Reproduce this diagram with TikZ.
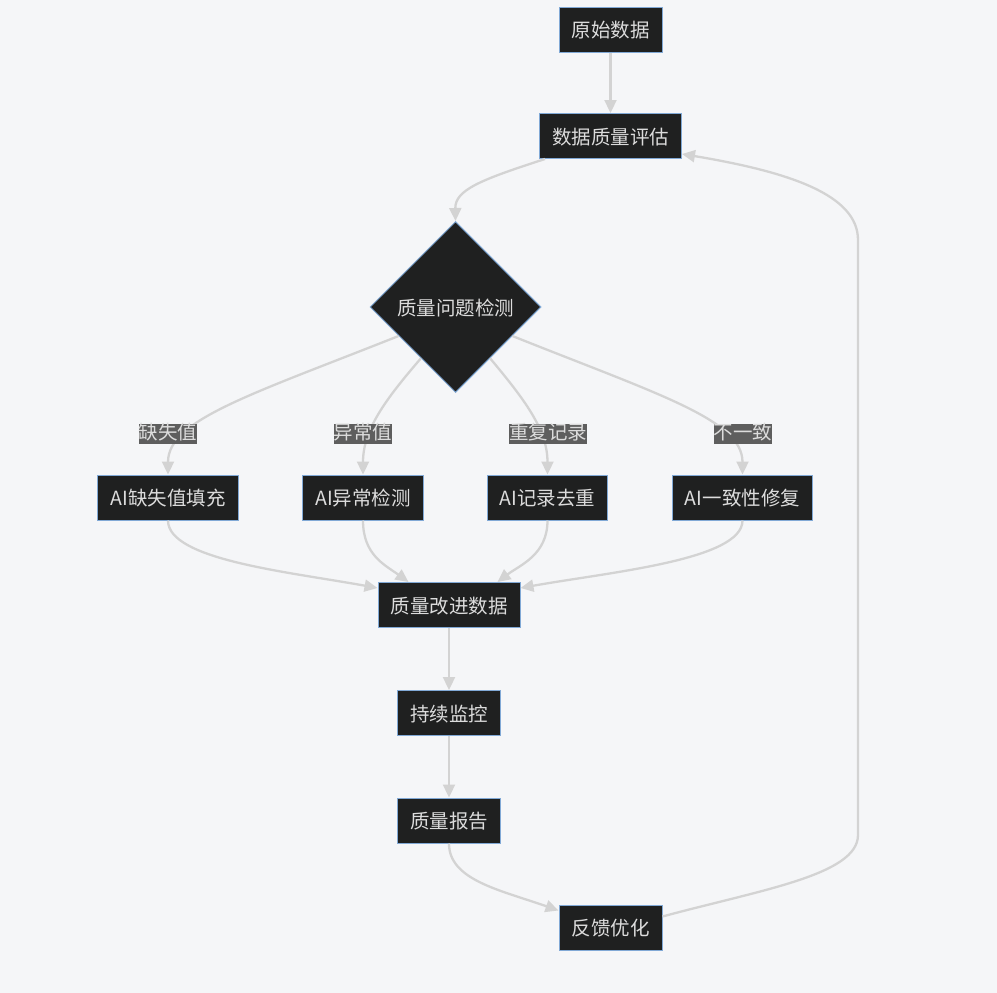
\documentclass[tikz,border=0pt]{standalone}
\usepackage{fontspec}
\setmainfont{Noto Sans CJK SC}
\usetikzlibrary{shapes.geometric,arrows.meta,calc}
\definecolor{bgc}{HTML}{F5F6F8}
\definecolor{nodefill}{HTML}{1F2020}
\definecolor{nodeline}{HTML}{81A9D6}
\definecolor{txt}{HTML}{DCDCDC}
\definecolor{edgec}{HTML}{D3D3D3}
\definecolor{lblbg}{HTML}{5E5E5E}
\begin{document}
\begin{tikzpicture}[x=1pt,y=-1pt,
  every node/.style={font=\fontsize{19.5}{22}\selectfont, text=txt},
  box/.style={draw=nodeline, line width=1pt, fill=nodefill, minimum height=45pt,
    inner xsep=12.5pt, inner ysep=0pt, text height=18pt, text depth=2pt},
  dia/.style={shape=diamond, draw=nodeline, line width=1pt, fill=nodefill, aspect=1,
    minimum width=171pt, minimum height=171pt, inner sep=0pt, text height=18pt, text depth=2pt},
  lbl/.style={fill=lblbg, inner sep=0pt, text height=16pt, text depth=4pt},
  conn/.style={draw=edgec, line width=2.3pt, -{Triangle[length=13pt,width=12pt]}}
]
\fill[bgc] (0,0) rectangle (997,993);
\useasboundingbox (0,0) rectangle (997,993);

\node[box] (n1) at (610.5,29.5) {原始数据};
\node[box] (n2) at (610.5,136) {数据质量评估};
\node[dia] (d) at (455.5,307) {质量问题检测};
\node[box] (a1) at (168,497.5) {AI缺失值填充};
\node[box] (a2) at (363,497.5) {AI异常检测};
\node[box] (a3) at (547.5,497.5) {AI记录去重};
\node[box] (a4) at (742.5,497.5) {AI一致性修复};
\node[box] (q) at (449,605) {质量改进数据};
\node[box] (m) at (449,713) {持续监控};
\node[box] (r) at (449,820.5) {质量报告};
\node[box] (f) at (610.5,927.5) {反馈优化};

% edges
\draw[conn] (n1.south) -- (n2.north);
\draw[conn] ($(n2.south)+(-65.5,0)$) .. controls (480,180) and (455,190) .. (d.north);

\draw[conn] (d.207) .. controls (250,395) and (168,420) .. (a1.north);
\draw[conn] (d.236) .. controls (385,400) and (363,430) .. (a2.north);
\draw[conn] (d.304) .. controls (525,400) and (547.5,430) .. (a3.north);
\draw[conn] (d.333) .. controls (660,395) and (742.5,420) .. (a4.north);

\draw[conn] (a1.south) .. controls (168,560) and (290,572) .. ($(q.north west)+(0,6)$);
\draw[conn] (a2.south) .. controls (363,555) and (385,565) .. ($(q.north west)+(31,0)$);
\draw[conn] (a3.south) .. controls (547.5,555) and (520,565) .. ($(q.north east)+(-23,0)$);
\draw[conn] (a4.south) .. controls (742.5,560) and (610,572) .. ($(q.north east)+(0,6)$);

\draw[conn] (q.south) -- (m.north);
\draw[conn] (m.south) -- (r.north);
\draw[conn] (r.south) .. controls (449,880) and (500,890) .. ($(f.north west)+(0,6)$);
\coordinate (loopb) at (858,835);
\coordinate (loopt) at (858,240);
\draw[conn] ($(f.north east)+(0,12)$) .. controls (760,890) and (858,875) .. (loopb)
  -- (loopt) .. controls (858,195) and (790,172) .. ($(n2.south east)+(0,-5)$);

% labels
\node[lbl] (l1) at (168,433.5) {缺失值};
\node[lbl] (l2) at (363,433.5) {异常值};
\node[lbl] (l3) at (548,433.5) {重复记录};
\node[lbl] (l4) at (743,433.5) {不一致};
\end{tikzpicture}
\end{document}
